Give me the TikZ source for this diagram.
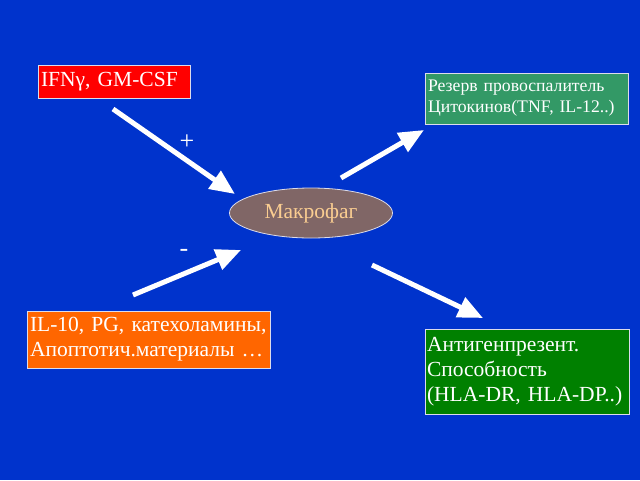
\documentclass[tikz,border=0pt]{standalone}
\usepackage{fontspec}
\setmainfont{Liberation Serif}
\usetikzlibrary{arrows.meta,shapes.geometric}
\definecolor{bg}{RGB}{0,51,204}
\definecolor{redbox}{RGB}{255,0,0}
\definecolor{greenA}{RGB}{51,153,102}
\definecolor{greenB}{RGB}{0,128,0}
\definecolor{orangebox}{RGB}{255,102,0}
\definecolor{ellfill}{RGB}{128,102,102}
\definecolor{elltext}{RGB}{250,205,145}
\definecolor{boxline}{RGB}{220,220,235}
\tikzset{
  infobox/.style={draw=boxline, line width=0.8pt, text=white, align=left, inner xsep=4pt, inner ysep=2pt},
  bigtext/.style={font=\fontsize{21.5}{25}\selectfont},
  smalltext/.style={font=\fontsize{17.7}{21}\selectfont},
  fatarrow/.style={white, line width=5pt, -{Triangle[length=25pt,width=21pt]}},
  signlabel/.style={text=white, font=\fontsize{26}{26}\selectfont}
}
\begin{document}
\begin{tikzpicture}[x=1pt,y=-1pt]
\fill[bg] (0,0) rectangle (640,480);
\useasboundingbox (0,0) rectangle (640,480);

\node[infobox, bigtext, fill=redbox, minimum width=152pt, minimum height=33pt, text width=146pt, inner xsep=3pt] (ifn) at (114,81.5) {IFNγ, GM-CSF};
\node[infobox, smalltext, fill=greenA, minimum width=203pt, minimum height=51pt, text width=197pt, inner xsep=3pt] (rez) at (526.5,98.5) {Резерв провоспалитель\\Цитокинов(TNF, IL-12..)};
\node[infobox, bigtext, fill=orangebox, minimum width=243pt, minimum height=57pt, text width=237pt, inner xsep=3pt] (il) at (148.5,339.5) {IL-10, PG, катехоламины,\\Апоптотич.материалы …};
\node[infobox, bigtext, fill=greenB, minimum width=204pt, minimum height=85pt, text width=200pt, inner xsep=2pt] (ag) at (527,371.5) {Антигенпрезент.\\Способность\\(HLA-DR, HLA-DP..)};

\node[ellipse, draw=boxline, line width=0.8pt, fill=ellfill, minimum width=163pt, minimum height=50pt, inner sep=0pt, text=elltext, font=\fontsize{21.5}{24}\selectfont] (mac) at (311,213) {Макрофаг};

\coordinate (a1s) at (113,109);
\coordinate (a1e) at (235,194);
\coordinate (a2s) at (133,295);
\coordinate (a2e) at (241,250);
\coordinate (a3s) at (341,178);
\coordinate (a3e) at (424,130);
\coordinate (a4s) at (372,265);
\coordinate (a4e) at (483,318);

\draw[fatarrow] (a1s) -- (a1e);
\draw[fatarrow] (a2s) -- (a2e);
\draw[fatarrow] (a3s) -- (a3e);
\draw[fatarrow] (a4s) -- (a4e);

\node[signlabel] (plus) at (187,142) {+};
\node[signlabel] (minus) at (184,253) {-};
\end{tikzpicture}
\end{document}
